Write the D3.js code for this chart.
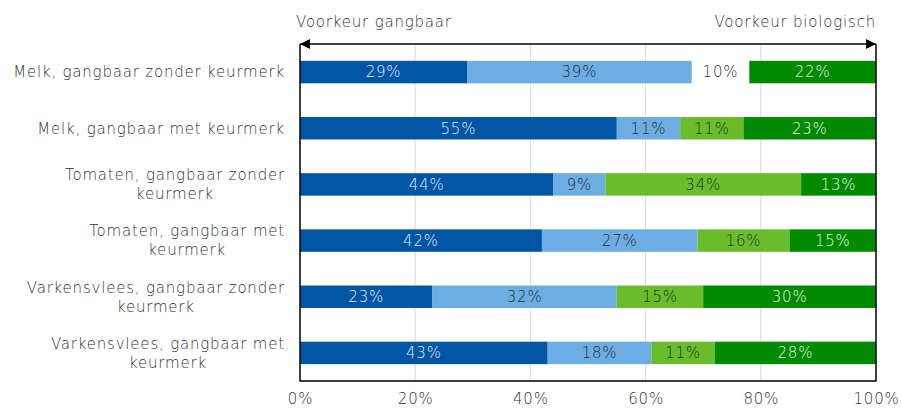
<!DOCTYPE html>
<html lang="nl">
<head>
<meta charset="UTF-8">
<title>Voorkeur gangbaar / biologisch</title>
<script src="https://d3js.org/d3.v7.min.js"></script>
<style>
  body { margin: 0; background: #fff; font-family: "DejaVu Sans", sans-serif; }
  text { font-family: "DejaVu Sans", sans-serif; letter-spacing: 0.8px; }
</style>
</head>
<body>
<div id="chart"></div>
<script>
// categorieën (regels in labels gescheiden door |)
const categorieen = [
  "Melk, gangbaar zonder keurmerk",
  "Melk, gangbaar met keurmerk",
  "Tomaten, gangbaar zonder|keurmerk",
  "Tomaten, gangbaar met|keurmerk",
  "Varkensvlees, gangbaar zonder|keurmerk",
  "Varkensvlees, gangbaar met|keurmerk"
];
// reeksen (van links naar rechts)
const sterkGangbaar   = [29, 55, 44, 42, 23, 43];
const gangbaar        = [39, 11,  9, 27, 32, 18];
const biologisch      = [10, 11, 34, 16, 15, 11];
const sterkBiologisch = [22, 23, 13, 15, 30, 28];
const tickWaarden = [0, 20, 40, 60, 80, 100];
// cel zonder vulling in het origineel: [rij, reeks]
const zonderVulling = [[0, 2]];

const reeksen = [
  { key: "sg", waarden: sterkGangbaar,   kleur: "#0055a4", tekst: "#e4ecf6" },
  { key: "g",  waarden: gangbaar,        kleur: "#6caee3", tekst: "#2b2b2b" },
  { key: "b",  waarden: biologisch,      kleur: "#6abd2a", tekst: "#2b2b2b" },
  { key: "sb", waarden: sterkBiologisch, kleur: "#008a00", tekst: "#eef6ee" }
];

const W = 901, H = 409;
const margin = { top: 44, right: 25, bottom: 28, left: 300 };
const width = W - margin.left - margin.right;
const height = H - margin.top - margin.bottom;
const tekstKleur = "#333";

const svg = d3.select("#chart").append("svg")
  .attr("width", W).attr("height", H);
const g = svg.append("g").attr("transform", `translate(${margin.left},${margin.top})`);

const x = d3.scaleLinear().domain([0, 100]).range([0, width]);
const y = d3.scaleBand().domain(d3.range(categorieen.length)).range([0, height]).paddingInner(0.6).paddingOuter(0.3);

// gridlijnen
g.selectAll("line.grid").data(tickWaarden.slice(1, -1)).enter().append("line")
  .attr("class", "grid")
  .attr("x1", d => x(d)).attr("x2", d => x(d))
  .attr("y1", 0).attr("y2", height)
  .attr("stroke", "#d9d9d9").attr("stroke-width", 1);

// data stapelen
const tabel = categorieen.map((c, i) => {
  const r = { i };
  reeksen.forEach(s => r[s.key] = s.waarden[i]);
  return r;
});
const stapel = d3.stack().keys(reeksen.map(s => s.key))(tabel);
const leeg = (i, si) => zonderVulling.some(z => z[0] === i && z[1] === si);

stapel.forEach((laag, si) => {
  const s = reeksen[si];
  const lg = g.append("g");
  lg.selectAll("rect").data(laag).enter().append("rect")
    .attr("x", d => x(d[0]))
    .attr("y", d => y(d.data.i))
    .attr("width", d => x(d[1]) - x(d[0]))
    .attr("height", y.bandwidth())
    .attr("fill", d => leeg(d.data.i, si) ? "none" : s.kleur);
  lg.selectAll("text").data(laag).enter().append("text")
    .attr("x", d => x((d[0] + d[1]) / 2))
    .attr("y", d => y(d.data.i) + y.bandwidth() / 2)
    .attr("dy", "0.36em")
    .attr("text-anchor", "middle")
    .attr("font-size", 15)
    .attr("font-weight", 300)
    .attr("fill", d => leeg(d.data.i, si) ? tekstKleur : s.tekst)
    .text(d => (d[1] - d[0]) + "%");
});

// kader: links, rechts, onder
g.append("path")
  .attr("d", `M0,0V${height}H${width}V0`)
  .attr("fill", "none").attr("stroke", "#000").attr("stroke-width", 1.5);

// dubbele pijl bovenaan
svg.append("defs").selectAll("marker").data(["start", "end"]).enter().append("marker")
  .attr("id", d => "pijl-" + d)
  .attr("viewBox", "0 0 10 10").attr("refX", d => d === "end" ? 10 : 0).attr("refY", 5)
  .attr("markerWidth", 11).attr("markerHeight", 10).attr("markerUnits", "userSpaceOnUse")
  .attr("orient", "auto")
  .append("path")
  .attr("d", d => d === "end" ? "M0,0L10,5L0,10Z" : "M10,0L0,5L10,10Z")
  .attr("fill", "#000");
g.append("line")
  .attr("x1", x(0)).attr("x2", x(100)).attr("y1", 0).attr("y2", 0)
  .attr("stroke", "#000").attr("stroke-width", 1.5)
  .attr("marker-start", "url(#pijl-start)").attr("marker-end", "url(#pijl-end)");

// teksten boven de pijl
g.append("text").attr("x", x(0) - 4).attr("y", -17).attr("font-size", 15).attr("font-weight", 300)
  .attr("fill", tekstKleur).text("Voorkeur gangbaar");
g.append("text").attr("x", x(100)).attr("y", -17).attr("text-anchor", "end").attr("font-size", 15)
  .attr("font-weight", 300).attr("fill", tekstKleur).text("Voorkeur biologisch");

// x-as
const xAs = g.append("g").attr("transform", `translate(0,${height})`)
  .call(d3.axisBottom(x).tickValues(tickWaarden).tickFormat(d => d + "%").tickSize(0).tickPadding(12));
xAs.select(".domain").remove();
xAs.selectAll("text").attr("font-size", 15).attr("font-weight", 300).attr("fill", tekstKleur)
  .style("font-family", "DejaVu Sans, sans-serif");

// categorielabels: gecentreerde regels, blok rechts uitgelijnd
const rechts = -15;
const lijnHoogte = 19;
categorieen.forEach((c, i) => {
  const regels = c.split("|");
  const t = g.append("text").attr("font-size", 15).attr("font-weight", 300).attr("fill", tekstKleur)
    .attr("text-anchor", "middle");
  const spans = regels.map(r => t.append("tspan").text(r));
  const maxW = d3.max(spans, s => s.node().getComputedTextLength());
  const cx = rechts - maxW / 2;
  const cy = y(i) + y.bandwidth() / 2 - (regels.length - 1) * lijnHoogte / 2;
  spans.forEach((s, k) => s.attr("x", cx).attr("y", cy + k * lijnHoogte).attr("dy", "0.36em"));
});
</script>
</body>
</html>
